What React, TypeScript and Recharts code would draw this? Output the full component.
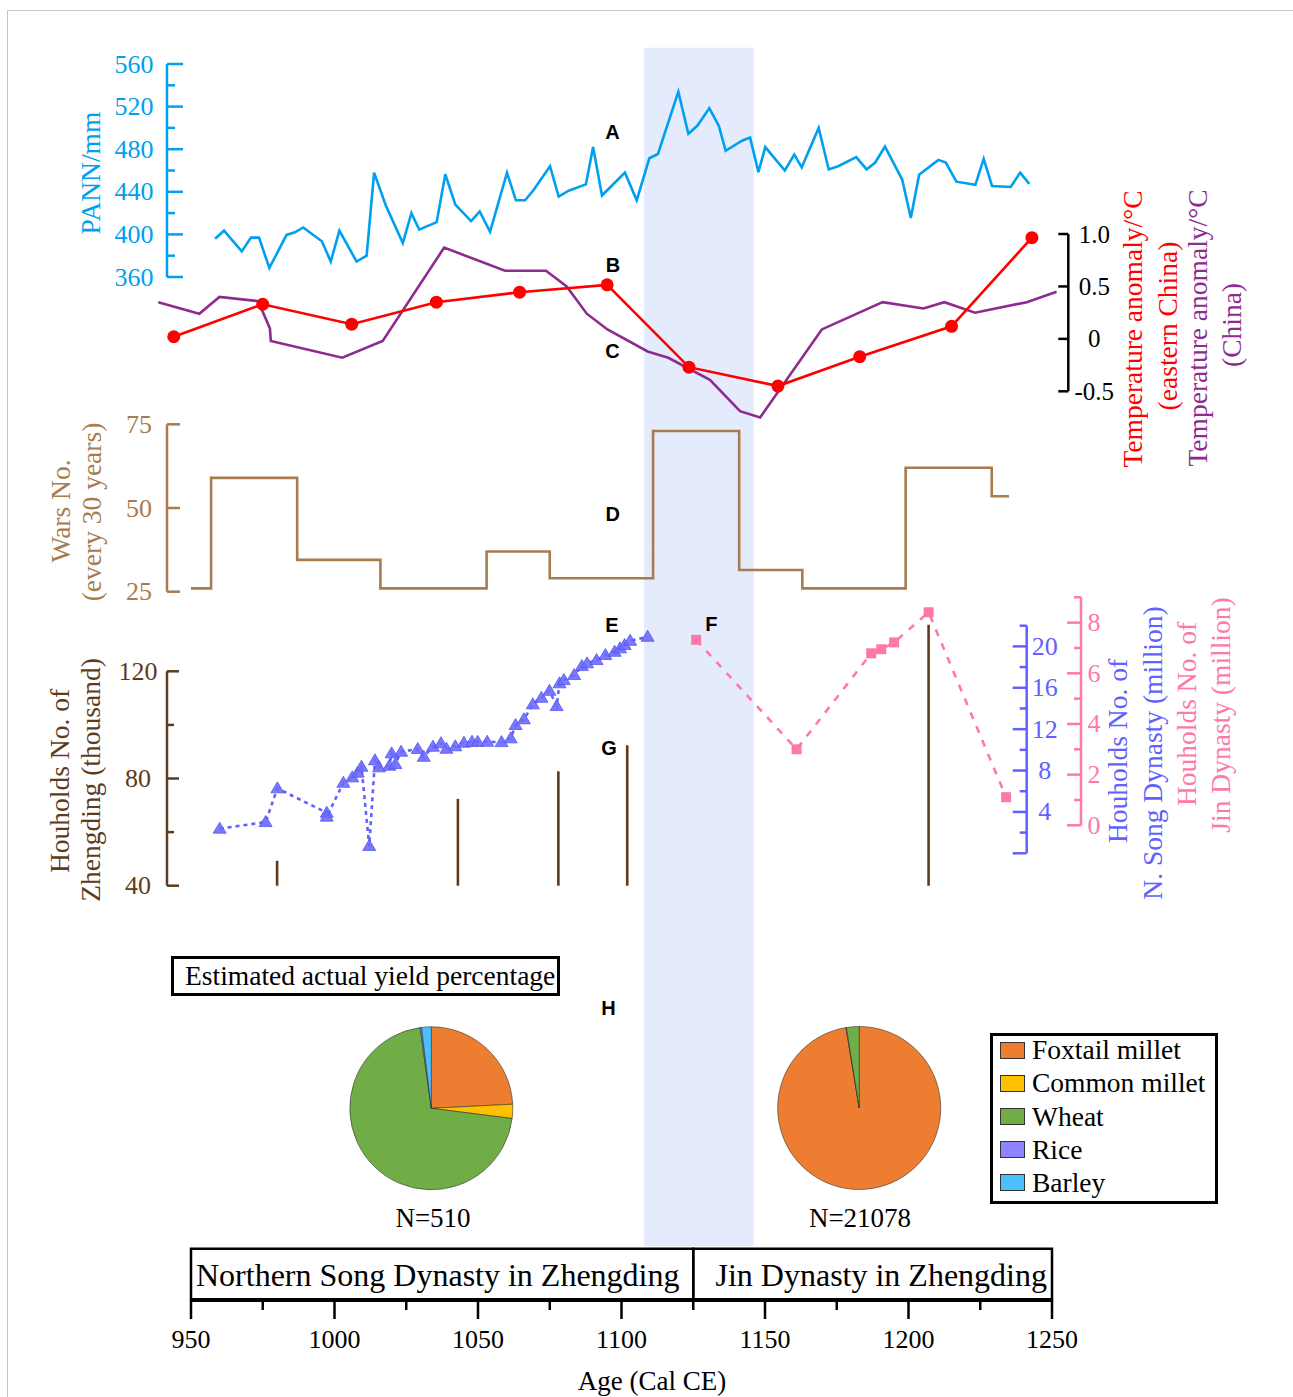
import React from "react";
import {
  ComposedChart,
  Line,
  XAxis,
  YAxis,
  ReferenceArea,
  PieChart,
  Pie,
  Cell,
} from "recharts";

const W = 1293;
const H = 1397;
const SERIF = '"Liberation Serif", "Times New Roman", serif';
const SANS = '"Liberation Sans", Arial, sans-serif';

// shared time scale: 950 CE sits at 191px, 1250 CE at 1052px
const X950 = 191;
const X1250 = 1052;
const xPx = (year: number) => X950 + ((year - 950) * (X1250 - X950)) / 300;
const WIDE: [number, number] = [930, 1270];

// A: precipitation (PANN, mm)
const PANN_YEARS = [
  958.4, 961.5, 967.7, 970.9, 973.7, 977.3, 983.3, 986.2, 989.1, 995.6,
  998.7, 1001.7, 1007.7, 1011.2, 1013.8, 1017.9, 1023.8, 1026.8, 1029.5, 1035.6,
  1038.6, 1042.1, 1047.6, 1050.6, 1054.2, 1060.1, 1063.2, 1066.4, 1069.3, 1075.1,
  1078.1, 1081.6, 1087.6, 1090.1, 1093.2, 1101.2, 1105.3, 1109.7, 1112.7, 1119.8,
  1123.3, 1126.4, 1130.6, 1133.9, 1136.3, 1142.0, 1144.8, 1147.7, 1150.1, 1156.9,
  1160.2, 1162.8, 1168.7, 1172.2, 1175.5, 1181.8, 1185.4, 1188.4, 1191.8, 1197.8,
  1200.8, 1203.7, 1210.4, 1213.0, 1216.7, 1223.3, 1226.2, 1229.1, 1235.6, 1238.9,
  1242.1,
];
const PANN_MM = [
  396, 403.5, 384, 397, 397, 368.5, 399.5, 402, 406.5, 393.5,
  374.5, 403.5, 374.5, 380, 458, 427, 392, 420, 404.5, 411.5,
  456.5, 428, 412.5, 421.5, 402.5, 458, 432, 432, 441.5, 464,
  435.5, 441, 447, 482, 436.5, 458, 432, 471.5, 475.5, 534,
  494.5, 502, 518.5, 502, 478.5, 488, 491, 458.5, 482, 460,
  475, 463, 500, 461, 464, 472.5, 461, 467.5, 482.5, 451.5,
  415.5, 456, 470, 467.5, 449.5, 446.5, 471, 445.5, 444.5, 458,
  447.5,
];

// B: temperature anomaly, eastern China
const TEMP_EC_YEARS = [944, 975, 1006, 1035.5, 1064.5, 1095, 1123.5, 1154.5, 1183, 1215, 1243];
const TEMP_EC = [0.02, 0.33, 0.14, 0.35, 0.445, 0.515, -0.27, -0.45, -0.17, 0.12, 0.965];

// C: temperature anomaly, China
const TEMP_CN_YEARS = [
  938.6, 952.9, 959.9, 973.4, 977.5, 977.8, 1002.7, 1016.8, 1038.2, 1059.4,
  1073.7, 1080.9, 1087.9, 1095.1, 1109.1, 1116.3, 1130.8, 1141.3, 1148.3, 1169.8,
  1191.0, 1205.2, 1212.5, 1223.2, 1241.2, 1251.6,
];
const TEMP_CN = [
  0.35, 0.24, 0.4, 0.36, 0.1, -0.02, -0.18, -0.02, 0.87, 0.65,
  0.65, 0.5, 0.24, 0.09, -0.12, -0.18, -0.39, -0.69, -0.75, 0.09,
  0.35, 0.29, 0.35, 0.25, 0.35, 0.45,
];

// D: wars every 30 years (step starts)
const WAR_YEARS = [950, 957, 987, 1016, 1053, 1075, 1111, 1141, 1163, 1199, 1229, 1235];
const WAR_COUNTS = [26, 59, 34.5, 26, 37, 29, 73, 31.5, 26, 62, 53.5, 53.5];

// E: households, Northern Song (million)
const SONG_YEARS = [
  960.0, 976.0, 980.1, 997.3, 997.3, 1003.1, 1006.2, 1008.1, 1009.4, 1012.1,
  1014.1, 1015.5, 1019.1, 1019.9, 1021.2, 1023.2, 1029.0, 1031.1, 1034.3, 1037.1,
  1039.0, 1042.1, 1045.1, 1047.9, 1049.9, 1053.2, 1058.2, 1061.4, 1063.1, 1066.0,
  1069.1, 1072.1, 1074.9, 1077.4, 1078.4, 1079.9, 1083.5, 1086.2, 1088.0, 1091.3,
  1094.4, 1097.6, 1099.5, 1101.1, 1103.0, 1109.1,
];
const SONG_HH = [
  2.38, 3.02, 6.28, 3.92, 3.54, 6.82, 7.34, 7.79, 8.37, 0.71,
  8.99, 8.31, 8.46, 9.66, 8.63, 9.82, 10.08, 9.33, 10.3, 10.63,
  10.11, 10.34, 10.69, 10.78, 10.78, 10.78, 10.75, 11.11, 12.4, 12.95,
  14.4, 15.03, 15.71, 14.23, 16.43, 16.74, 17.23, 18.1, 18.36, 18.68,
  19.16, 19.48, 19.81, 20.13, 20.54, 20.93,
];

// F: households, Jin (million)
const JIN_YEARS = [1126, 1161, 1187, 1190.5, 1195, 1207, 1234];
const JIN_HH = [7.32, 3.0, 6.79, 6.95, 7.22, 8.41, 1.11];

// G: households of Zhengding (thousand)
const ZD_BASE = 40;
const ZD_YEARS = [980, 1043, 1078, 1102, 1207];
const ZD_HH = [49.3, 72.4, 82.7, 92.4, 137.4];

// H: estimated actual yield percentage
const CROPS = ["Foxtail millet", "Common millet", "Wheat", "Rice", "Barley"];
const CROP_COLORS = ["#ed7d31", "#ffc000", "#70ad47", "#8f84ff", "#4cc0ff"];
const SONG_YIELD = [24.2, 2.8, 70.8, 0.3, 1.9];
const JIN_YIELD = [97.4, 0.1, 2.5, 0, 0];

const BAND = [1107.8, 1146.1];
const DYNASTIES = [
  { name: "Northern Song Dynasty in Zhengding", start: 950, end: 1125 },
  { name: "Jin Dynasty in Zhengding", start: 1125, end: 1250 },
];
const AGE_TICKS = Array.from({ length: 13 }, (_, i) => 950 + i * 25);

const BLUE = "#00a0f0";
const RED = "#ff0000";
const PURPLE = "#8e2b8f";
const WAR_BROWN = "#a87b50";
const ZD_BROWN = "#5e3b1c";
const SONG_BLUE = "#6161ff";
const JIN_PINK = "#ff79a7";

const layer: React.CSSProperties = { position: "absolute", left: 0, top: 0 };

const pairs = (xs: number[], vs: number[]) => xs.map((year, i) => ({ year, v: vs[i] }));

// domain for a hidden axis so that lo sits at yLo px and hi at yHi px
function spanDomain(lo: number, yLo: number, hi: number, yHi: number, top: number, bottom: number): [number, number] {
  const k = (yLo - yHi) / (hi - lo);
  return [lo - (bottom - yLo) / k, hi + (yHi - top) / k];
}

type AxisSpec = {
  side: "left" | "right";
  lineX: number;
  top: number;
  bottom: number;
  domain: [number, number];
  ticks: number[];
  long: number[];
  labels: number[];
  majorLen: number;
  minorLen: number;
  labelOffset: number;
  fontSize: number;
  color: string;
  textColor?: string;
  format?: (v: number) => string;
};

function SideAxis({ spec }: { spec: AxisSpec }) {
  const AXW = 60;
  const margin =
    spec.side === "left"
      ? { left: spec.lineX - AXW, right: W - spec.lineX - 20, top: spec.top, bottom: H - spec.bottom }
      : { left: spec.lineX - 20, right: W - spec.lineX - AXW, top: spec.top, bottom: H - spec.bottom };
  const dir = spec.side === "left" ? 1 : -1;
  const renderTick = (p: any) => {
    const v = p.payload.value;
    const len = spec.long.includes(v) ? spec.majorLen : spec.minorLen;
    return (
      <g>
        <line x1={spec.lineX} x2={spec.lineX + dir * len} y1={p.y} y2={p.y} stroke={spec.color} strokeWidth={2.5} />
        {spec.labels.includes(v) && (
          <text
            x={spec.lineX - dir * spec.labelOffset}
            y={p.y}
            textAnchor="middle"
            dominantBaseline="central"
            fill={spec.textColor ?? spec.color}
            style={{ fontFamily: SERIF, fontSize: spec.fontSize }}
          >
            {spec.format ? spec.format(v) : v}
          </text>
        )}
      </g>
    );
  };
  return (
    <div style={layer}>
      <ComposedChart width={W} height={H} margin={margin}>
        <XAxis type="number" dataKey="x" domain={[0, 1]} hide />
        <YAxis
          type="number"
          orientation={spec.side}
          width={AXW}
          domain={spec.domain}
          ticks={spec.ticks}
          interval={0}
          allowDataOverflow
          tickSize={0}
          tickMargin={0}
          axisLine={{ stroke: spec.color, strokeWidth: 2.5 }}
          tickLine={false}
          tick={renderTick}
        />
        <Line
          data={[{ x: 0, y: spec.domain[0] }, { x: 1, y: spec.domain[1] }]}
          dataKey="y"
          stroke="none"
          dot={false}
          isAnimationActive={false}
        />
      </ComposedChart>
    </div>
  );
}

const range = (a: number, b: number, step: number) =>
  Array.from({ length: Math.round((b - a) / step) + 1 }, (_, i) => +(a + i * step).toFixed(2));

const AXES: AxisSpec[] = [
  {
    side: "left", lineX: 167, top: 64, bottom: 277, domain: [360, 560],
    ticks: range(360, 560, 20), long: range(360, 560, 40), labels: range(360, 560, 40),
    majorLen: 16, minorLen: 8, labelOffset: 33, fontSize: 26, color: BLUE,
  },
  {
    side: "right", lineX: 1068.3, top: 234, bottom: 391.3, domain: [-0.5, 1],
    ticks: [-0.5, 0, 0.5, 1], long: [-0.5, 0, 0.5, 1], labels: [-0.5, 0, 0.5, 1],
    majorLen: 10, minorLen: 10, labelOffset: 26, fontSize: 25, color: "#000",
    format: (v) => (v === 1 ? "1.0" : String(v)),
  },
  {
    side: "left", lineX: 167, top: 424.3, bottom: 591.7, domain: [25, 75],
    ticks: [25, 50, 75], long: [25, 50, 75], labels: [25, 50, 75],
    majorLen: 13, minorLen: 13, labelOffset: 28, fontSize: 26, color: WAR_BROWN,
  },
  {
    side: "left", lineX: 167, top: 671.3, bottom: 885.7, domain: [40, 120],
    ticks: [40, 60, 80, 100, 120], long: [40, 80, 120], labels: [40, 80, 120],
    majorLen: 12, minorLen: 7, labelOffset: 29, fontSize: 26, color: ZD_BROWN,
  },
  {
    side: "right", lineX: 1026.7, top: 625.7, bottom: 853.3, domain: [0, 22],
    ticks: range(0, 22, 2), long: [0, 4, 8, 12, 16, 20], labels: [4, 8, 12, 16, 20],
    majorLen: 14, minorLen: 7, labelOffset: 18, fontSize: 26, color: SONG_BLUE,
  },
  {
    side: "right", lineX: 1081, top: 597.3, bottom: 825.3, domain: [0, 9],
    ticks: range(0, 9, 1), long: [0, 2, 4, 6, 8], labels: [0, 2, 4, 6, 8],
    majorLen: 14, minorLen: 7, labelOffset: 13, fontSize: 26, color: JIN_PINK,
  },
];

// rotated axis titles: [text, centre x, centre y, colour]
const TITLES: [string, number, number, string][] = [
  ["PANN/mm", 90.5, 172.5, BLUE],
  ["Temperature anomaly/°C", 1133, 329, RED],
  ["(eastern China)", 1167.5, 326, RED],
  ["Temperature anomaly/°C", 1198, 328, PURPLE],
  ["(China)", 1231.7, 325, PURPLE],
  ["Wars No.", 60.5, 511, WAR_BROWN],
  ["(every 30 years)", 92, 511.5, WAR_BROWN],
  ["Houholds No. of", 59.6, 781, ZD_BROWN],
  ["Zhengding (thousand)", 91, 780, ZD_BROWN],
  ["Houholds No. of", 1118, 751, SONG_BLUE],
  ["N. Song Dynasty (million)", 1153, 753, SONG_BLUE],
  ["Houholds No. of", 1186.7, 714, JIN_PINK],
  ["Jin Dynasty (million)", 1220.8, 715, JIN_PINK],
];

const LETTERS: [string, number, number][] = [
  ["A", 612.5, 131.5],
  ["B", 613, 265],
  ["C", 612.5, 350.5],
  ["D", 612.7, 514.3],
  ["E", 612, 624.7],
  ["F", 711.3, 624.2],
  ["G", 609, 747.5],
  ["H", 608.5, 1007.5],
];

function Triangle(p: any) {
  const { cx, cy } = p;
  if (cx == null || cy == null) return <g />;
  return (
    <polygon
      points={`${cx},${cy - 6.5} ${cx - 6.5},${cy + 4.5} ${cx + 6.5},${cy + 4.5}`}
      fill="#6b6bff"
      fillOpacity={0.9}
      stroke="#5555ee"
      strokeWidth={0.8}
    />
  );
}

function Square(p: any) {
  const { cx, cy } = p;
  if (cx == null || cy == null) return <g />;
  return <rect x={cx - 5} y={cy - 5} width={10} height={10} fill={JIN_PINK} />;
}

function RedDot(p: any) {
  const { cx, cy } = p;
  if (cx == null || cy == null) return <g />;
  return <circle cx={cx} cy={cy} r={6.5} fill={RED} />;
}

export default function App() {
  const top = 40;
  const bottom = 900;
  const dPann = spanDomain(360, 277, 560, 64, top, bottom);
  const dTemp = spanDomain(-0.5, 391.3, 1, 234, top, bottom);
  const dWars = spanDomain(25, 591.7, 75, 424.3, top, bottom);
  const dZd = spanDomain(40, 885.7, 120, 671.3, top, bottom);
  const dSong = spanDomain(0, 853.3, 22, 625.7, top, bottom);
  const dJin = spanDomain(0, 825.3, 9, 597.3, top, bottom);

  const wideMargin = { left: xPx(WIDE[0]), right: W - xPx(WIDE[1]) };

  const songPie = CROPS.map((name, i) => ({ name, value: SONG_YIELD[i] }));
  const jinPie = CROPS.map((name, i) => ({ name, value: JIN_YIELD[i] }));

  const renderAgeTick = (p: any) => {
    const v = p.payload.value;
    const major = v % 50 === 0;
    return (
      <g>
        <line x1={p.x} x2={p.x} y1={1300} y2={1300 + (major ? 19 : 10)} stroke="#000" strokeWidth={2.5} />
        {major && (
          <text x={p.x} y={1339} textAnchor="middle" dominantBaseline="central" fill="#000" style={{ fontFamily: SERIF, fontSize: 26 }}>
            {v}
          </text>
        )}
      </g>
    );
  };

  return (
    <div
      style={{
        position: "absolute",
        left: 0,
        top: 0,
        width: W,
        height: H,
        overflow: "hidden",
        background: "#fff",
        fontFamily: SERIF,
      }}
    >
      <div style={{ position: "absolute", left: 7, top: 10, width: 1285, height: 1420, border: "1px solid #c6c6c6" }} />

      {/* shaded interval */}
      <div style={layer}>
        <ComposedChart width={W} height={H} margin={{ ...wideMargin, top: 47.7, bottom: H - 1246 }}>
          <XAxis type="number" dataKey="year" domain={WIDE} allowDataOverflow hide />
          <YAxis type="number" domain={[0, 1]} hide />
          <ReferenceArea x1={BAND[0]} x2={BAND[1]} fill="#e4ebfc" fillOpacity={1} stroke="none" />
          <Line data={[{ year: 950, v: 0 }, { year: 1250, v: 1 }]} dataKey="v" stroke="none" dot={false} isAnimationActive={false} />
        </ComposedChart>
      </div>

      {/* all time series */}
      <div style={layer}>
        <ComposedChart width={W} height={H} margin={{ ...wideMargin, top, bottom: H - bottom }}>
          <XAxis type="number" dataKey="year" domain={WIDE} allowDataOverflow hide />
          <YAxis yAxisId="pann" type="number" domain={dPann} allowDataOverflow hide />
          <YAxis yAxisId="temp" type="number" domain={dTemp} allowDataOverflow hide />
          <YAxis yAxisId="wars" type="number" domain={dWars} allowDataOverflow hide />
          <YAxis yAxisId="zd" type="number" domain={dZd} allowDataOverflow hide />
          <YAxis yAxisId="song" type="number" domain={dSong} allowDataOverflow hide />
          <YAxis yAxisId="jin" type="number" domain={dJin} allowDataOverflow hide />

          <Line yAxisId="pann" data={pairs(PANN_YEARS, PANN_MM)} dataKey="v" type="linear" stroke={BLUE} strokeWidth={2.6} dot={false} isAnimationActive={false} />
          <Line yAxisId="temp" data={pairs(TEMP_CN_YEARS, TEMP_CN)} dataKey="v" type="linear" stroke={PURPLE} strokeWidth={2.6} dot={false} isAnimationActive={false} />
          <Line yAxisId="temp" data={pairs(TEMP_EC_YEARS, TEMP_EC)} dataKey="v" type="linear" stroke={RED} strokeWidth={2.6} dot={<RedDot />} isAnimationActive={false} />
          <Line yAxisId="wars" data={pairs(WAR_YEARS, WAR_COUNTS)} dataKey="v" type="stepAfter" stroke={WAR_BROWN} strokeWidth={2.6} dot={false} isAnimationActive={false} />
          {ZD_YEARS.map((yr, i) => (
            <Line
              key={yr}
              yAxisId="zd"
              data={[{ year: yr, v: ZD_BASE }, { year: yr, v: ZD_HH[i] }]}
              dataKey="v"
              stroke={ZD_BROWN}
              strokeWidth={2.6}
              dot={false}
              isAnimationActive={false}
            />
          ))}
          <Line yAxisId="song" data={pairs(SONG_YEARS, SONG_HH)} dataKey="v" type="linear" stroke={SONG_BLUE} strokeWidth={2.6} strokeDasharray="4 4" dot={<Triangle />} isAnimationActive={false} />
          <Line yAxisId="jin" data={pairs(JIN_YEARS, JIN_HH)} dataKey="v" type="linear" stroke={JIN_PINK} strokeWidth={2.6} strokeDasharray="7 8" dot={<Square />} isAnimationActive={false} />
        </ComposedChart>
      </div>

      {AXES.map((spec, i) => (
        <SideAxis key={i} spec={spec} />
      ))}

      {/* dynasty boxes and age axis */}
      <div style={layer}>
        <ComposedChart width={W} height={H} margin={{ left: X950, right: W - X1250, top: 1248.7, bottom: 0 }}>
          <XAxis
            type="number"
            dataKey="year"
            domain={[950, 1250]}
            ticks={AGE_TICKS}
            interval={0}
            height={H - 1300}
            tickSize={0}
            tickMargin={0}
            axisLine={{ stroke: "#000", strokeWidth: 4 }}
            tickLine={false}
            tick={renderAgeTick}
          />
          <YAxis type="number" domain={[0, 1]} hide />
          {DYNASTIES.map((d, i) => (
            <ReferenceArea
              key={d.name}
              x1={d.start}
              x2={d.end}
              fill="none"
              stroke="#000"
              strokeWidth={2.5}
              label={{
                value: d.name,
                position: i === 0 ? "insideLeft" : "insideRight",
                offset: 5,
                fontSize: 32,
                fill: "#000",
                fontFamily: SERIF,
              }}
            />
          ))}
          <Line data={[{ year: 950, v: 0 }, { year: 1250, v: 1 }]} dataKey="v" stroke="none" dot={false} isAnimationActive={false} />
        </ComposedChart>
      </div>

      {/* pies */}
      <div style={layer}>
        <PieChart width={W} height={H} margin={{ top: 0, left: 0, right: 0, bottom: 0 }}>
          <Pie data={songPie} dataKey="value" cx={431.3} cy={1108.3} outerRadius={81.5} startAngle={90} endAngle={-270} stroke="#333" strokeWidth={0.6} isAnimationActive={false}>
            {songPie.map((d, i) => (
              <Cell key={d.name} fill={CROP_COLORS[i]} />
            ))}
          </Pie>
          <Pie data={jinPie} dataKey="value" cx={859.2} cy={1108} outerRadius={81.5} startAngle={90} endAngle={-270} stroke="#333" strokeWidth={0.6} isAnimationActive={false}>
            {jinPie.map((d, i) => (
              <Cell key={d.name} fill={CROP_COLORS[i]} />
            ))}
          </Pie>
        </PieChart>
      </div>

      {/* texts */}
      {TITLES.map(([t, x, y, c], i) => (
        <div
          key={i}
          style={{
            position: "absolute",
            left: x,
            top: y,
            transform: "translate(-50%, -50%) rotate(-90deg)",
            whiteSpace: "nowrap",
            fontSize: 27.5,
            lineHeight: 1,
            color: c,
          }}
        >
          {t}
        </div>
      ))}
      {LETTERS.map(([t, x, y]) => (
        <div
          key={t}
          style={{
            position: "absolute",
            left: x,
            top: y,
            transform: "translate(-50%, -50%)",
            fontFamily: SANS,
            fontWeight: 700,
            fontSize: 20,
            lineHeight: 1,
          }}
        >
          {t}
        </div>
      ))}

      <div
        style={{
          position: "absolute",
          left: 171,
          top: 956,
          width: 389,
          height: 40,
          boxSizing: "border-box",
          border: "3px solid #000",
          fontSize: 27.5,
          lineHeight: "34px",
          paddingLeft: 11,
          whiteSpace: "nowrap",
        }}
      >
        Estimated actual yield percentage
      </div>

      <div style={{ position: "absolute", left: 433, top: 1218, transform: "translate(-50%, -50%)", fontSize: 27, lineHeight: 1 }}>
        N=510
      </div>
      <div style={{ position: "absolute", left: 860, top: 1218, transform: "translate(-50%, -50%)", fontSize: 27, lineHeight: 1 }}>
        N=21078
      </div>

      <div
        style={{
          position: "absolute",
          left: 990,
          top: 1033,
          width: 228,
          height: 171,
          boxSizing: "border-box",
          border: "3px solid #000",
        }}
      >
        {CROPS.map((c, i) => (
          <div key={c} style={{ position: "absolute", left: 7, top: 14 + i * 33.2 - 16.5, height: 33, display: "flex", alignItems: "center" }}>
            <div
              style={{
                width: 25,
                height: 17,
                boxSizing: "border-box",
                background: CROP_COLORS[i],
                border: "1.5px solid #333",
                marginRight: 7,
              }}
            />
            <span style={{ fontSize: 27.5, whiteSpace: "nowrap", lineHeight: 1 }}>{c}</span>
          </div>
        ))}
      </div>

      <div style={{ position: "absolute", left: 652, top: 1381, transform: "translate(-50%, -50%)", fontSize: 27, lineHeight: 1, whiteSpace: "nowrap" }}>
        Age (Cal CE)
      </div>
    </div>
  );
}
